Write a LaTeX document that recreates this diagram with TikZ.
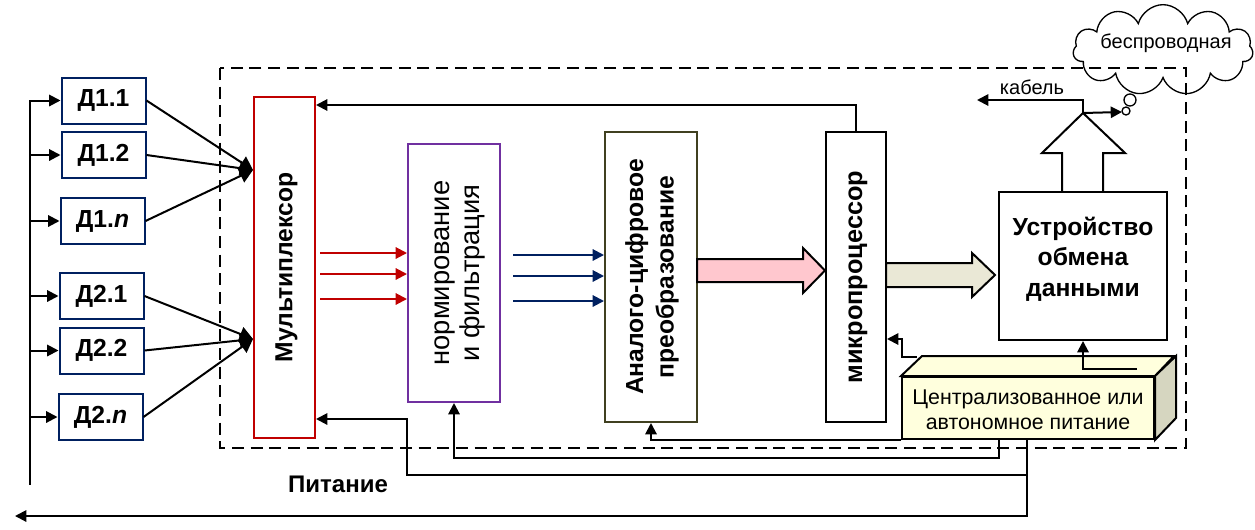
\documentclass[tikz,border=0pt]{standalone}
\usepackage{fontspec}
\setmainfont{Liberation Sans}
\usetikzlibrary{arrows.meta,shapes.symbols,calc}

\definecolor{sensblue}{RGB}{0,32,96}
\definecolor{muxred}{RGB}{192,0,0}
\definecolor{normviolet}{RGB}{112,48,160}
\definecolor{adcolive}{RGB}{64,64,32}
\definecolor{pinkfill}{RGB}{255,199,206}
\definecolor{beigefill}{RGB}{234,232,214}
\definecolor{powfill}{RGB}{255,255,221}
\definecolor{powside}{RGB}{214,214,192}

\newcommand{\boldbig}{\fontsize{18.5}{23}\selectfont\bfseries}
\newcommand{\plainmid}{\fontsize{16}{19}\selectfont}
\newcommand{\plainsmall}{\fontsize{15}{18}\selectfont}

\tikzset{
  wire/.style={line width=1.5pt},
  tip/.style={-{Triangle[length=8.5pt,width=8.5pt]}},
  bigtip/.style={-{Triangle[length=10pt,width=11pt]}},
  sensor/.style={draw=sensblue,line width=1.5pt,minimum width=63pt,minimum height=34.5pt,inner sep=0pt,font=\boldbig},
  block/.style={draw,line width=1.5pt,inner sep=0pt},
  vtext/.style={rotate=90,align=center},
}

\begin{document}
\begin{tikzpicture}[x=0.75pt,y=0.75pt,yscale=-1,xscale=1]
\useasboundingbox (0,0) rectangle (1255,529);

%Dashed frame
\draw[line width=1.5pt,dash pattern=on 9pt off 5pt] (220,68) rectangle (1186,448);

%Sensors
\node[sensor] (d11) at (103.5,100.5) {Д1.1};
\node[sensor] (d12) at (103.5,155) {Д1.2};
\node[sensor] (d1n) at (102.5,221) {Д1.\textit{n}};
\node[sensor] (d21) at (101.5,296) {Д2.1};
\node[sensor] (d22) at (101.5,350.5) {Д2.2};
\node[sensor] (d2n) at (100.5,417) {Д2.\textit{n}};

%Blocks
\node[block,draw=muxred,minimum width=45.75pt,minimum height=255.75pt] (mux) at (284.5,267.5) {};
\node[vtext,font=\boldbig] (muxlbl) at ($(mux.center)+(2,0)$) {Мультиплексор};
\node[block,draw=normviolet,minimum width=69pt,minimum height=193.5pt] (norm) at (454,273) {};
\node[vtext,font=\fontsize{20.5}{22.5}\selectfont] (normlbl) at ($(norm.center)+(6,0)$) {нормирование\\и фильтрация};
\node[block,draw=adcolive,minimum width=69pt,minimum height=217.5pt] (adc) at (651,277) {};
\node[vtext,font=\boldbig] (adclbl) at ($(adc.center)+(1,0)$) {Аналого-цифровое\\преобразование};
\node[block,minimum width=45pt,minimum height=217.5pt] (micro) at (856,277) {};
\node[vtext,font=\fontsize{19}{22}\selectfont\bfseries] (microlbl) at ($(micro.center)+(2,0)$) {микропроцессор};
\node[block,minimum width=126pt,minimum height=111pt] (exch) at (1083,266) {};
\node[align=center,font=\boldbig] (exchlbl) at ($(exch.center)+(0,-7)$) {Устройство\\обмена\\данными};

%Power box
\node[block,fill=powfill,minimum width=189pt,minimum height=46.5pt] (pow) at (1028,408) {};
\draw[wire,fill=powfill] (pow.north west) -- ++(21,-20) -- ++(252,0) -- (pow.north east) -- cycle;
\draw[wire,fill=powside] (pow.north east) -- ++(21,-20) -- ++(0,62) -- (pow.south east) -- cycle;
\node[align=center,font=\plainmid] (powlbl) at (1028,410) {Централизованное или\\автономное питание};

%Cloud
\node[cloud,draw,line width=1pt,cloud puffs=11,aspect=2,minimum width=135pt,minimum height=68pt,inner sep=0pt] (cloud) at (1163,50) {};
\node[font=\plainsmall] (cloudlbl) at (1166,43) {беспроводная};
\draw[line width=1pt] (1130,100) circle[radius=4.5pt];
\draw[line width=1pt] (1126,111) circle[radius=3pt];

%Block arrows
\draw[wire,fill=pinkfill] (697,259) -- (803,259) -- (803,248) -- (825,270.5) -- (803,293) -- (803,282) -- (697,282) -- cycle;
\draw[wire,fill=beigefill] (886,263) -- (972,263) -- (972,253) -- (995,275) -- (972,297) -- (972,287) -- (886,287) -- cycle;
\draw[wire] (1062,192) -- (1062,153) -- (1042,153) -- (1083,113) -- (1125,153) -- (1103,153) -- (1103,192);

%Sensor bus
\coordinate (bustop) at (30,100);
\coordinate (busbot) at (30,485);
\draw[wire] (bustop) -- (busbot);
\foreach \s in {d11,d12,d1n,d21,d22,d2n}
  \draw[wire,tip] (bustop |- \s.west) -- (\s.west);

%Sensors to multiplexer
\coordinate (m1) at (253,170);
\coordinate (m2) at (253,339);
\foreach \s in {d11,d12,d1n}
  \draw[wire,bigtip] (\s.east) -- (m1);
\foreach \s in {d21,d22,d2n}
  \draw[wire,bigtip] (\s.east) -- (m2);

%Signal arrows
\foreach \y in {253,274,299}
  \draw[wire,muxred,tip] ($(mux.east |- 0,\y)+(4,0)$) -- (norm.west |- 0,\y);
\foreach \y in {255,276,301}
  \draw[wire,sensblue,tip] ($(norm.east |- 0,\y)+(12,0)$) -- (adc.west |- 0,\y);

%Feedback
\draw[wire,tip] (micro.north) |- (mux.east |- 0,105);

%Outputs
\coordinate (up) at (1083,113);
\draw[wire,tip] (up) -- (1083,100) -- (977,100);
\node[font=\plainsmall] (cablelbl) at (1032,87) {кабель};
\draw[wire,tip] (up) -- (1122,112);

%Power lines
\coordinate (pm) at (917,357);
\coordinate (pe) at (1137,369);
\coordinate (pn) at (999,439);
\coordinate (pw) at (1027,439);
\draw[wire,tip] (pm) -- (902,357) -- (902,339) -- (micro.east |- 0,339);
\draw[wire,tip] (pe) -| (exch.south);
\draw[wire,tip] (pow.south west) -| (adc.south);
\draw[wire,tip] (pn) -- ++(0,19) -| (norm.south);
\draw[wire,tip] (pw |- 0,475) -| (407,419) -- (mux.east |- 0,419);
\draw[wire,tip] (pw) |- (15,516);
\node[font=\fontsize{18}{22}\selectfont\bfseries] (powtitle) at (338,484) {Питание};

\end{tikzpicture}
\end{document}
